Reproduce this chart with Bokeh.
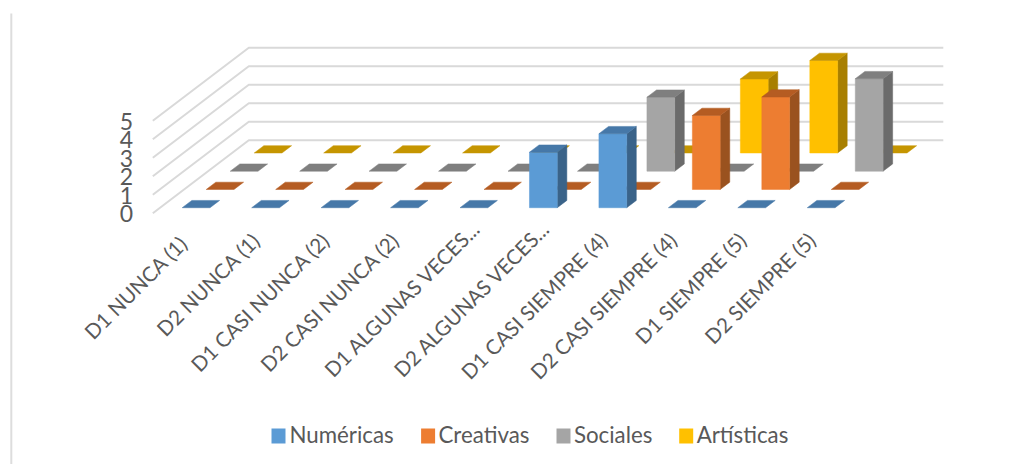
from bokeh.plotting import figure
from bokeh.models import Range1d
from bokeh.core.properties import value
from bokeh.embed import file_html
from bokeh.resources import INLINE

categories = ["D1 NUNCA (1)", "D2 NUNCA (1)", "D1 CASI NUNCA (2)", "D2 CASI NUNCA (2)",
              "D1 ALGUNAS VECES...", "D2 ALGUNAS VECES...", "D1 CASI SIEMPRE (4)",
              "D2 CASI SIEMPRE (4)", "D1 SIEMPRE (5)", "D2 SIEMPRE (5)"]
numericas = [0, 0, 0, 0, 0, 3, 4, 0, 0, 0]
creativas = [0, 0, 0, 0, 0, 0, 0, 4, 5, 0]
sociales = [0, 0, 0, 0, 0, 0, 4, 0, 0, 5]
artisticas = [0, 0, 0, 0, 0, 0, 0, 4, 5, 0]
series_names = ["Numéricas", "Creativas", "Sociales", "Artísticas"]
y_ticks = [0, 1, 2, 3, 4, 5]

series = [numericas, creativas, sociales, artisticas]
face_colors = [("#5B9BD5", "#4678A8", "#3A6389"),
               ("#ED7D31", "#B55C22", "#9A521F"),
               ("#A5A5A5", "#7F7F7F", "#6B6B6B"),
               ("#FFC000", "#C59500", "#A87F00")]

# Picture geometry: one category = 69.45 px, one value unit = 18.5 px
PX_CAT, PX_VAL = 69.45, 18.5
X0, Y0 = 152.3, 212.7                # where category 0 / value 0 meet the front of the floor
DX, DY = 24.0 / PX_CAT, 18.25 / PX_VAL   # shift per series row going backwards
N_ROWS = 4


def px_x(px):
    return (px - X0) / PX_CAT


def px_y(py):
    return (Y0 - py) / PX_VAL


W, H = 1023, 464
p = figure(width=W, height=H, output_backend="svg", toolbar_location=None,
           x_range=Range1d(px_x(0), px_x(W)),
           y_range=Range1d(px_y(H), px_y(0)),
           min_border=0, outline_line_color=None, background_fill_color="white",
           border_fill_color="white", x_axis_location=None, y_axis_location=None)
p.grid.visible = False

FONT = value("Lato")
GRID = "#D9D9D9"
TEXT = "#595959"

# outer frame line of the picture
p.segment([px_x(10.8)], [px_y(13)], [px_x(10.8)], [px_y(464)], line_color="#DDDDDD", line_width=2)

# gridlines: side wall + back wall
n = len(categories)
for v in y_ticks:
    xs = [0, N_ROWS * DX, n + N_ROWS * DX]
    ys = [v, v + N_ROWS * DY, v + N_ROWS * DY]
    p.line(xs, ys, line_color=GRID, line_width=2)


def quad_faces(k, r, val):
    """Front, top and side faces of one 3D bar, projected by category, row and value."""
    w, g = 0.4, 0.32
    d0, d1 = r + 0.3, r + 0.7
    xf = k + g + d0 * DX
    yf = d0 * DY
    xb = k + g + d1 * DX
    yb = d1 * DY
    front = ([xf, xf + w, xf + w, xf], [yf, yf, yf + val, yf + val])
    top = ([xf, xf + w, xb + w, xb], [yf + val, yf + val, yb + val, yb + val])
    side = ([xf + w, xb + w, xb + w, xf + w], [yf, yb, yb + val, yf + val])
    return front, top, side


# painter's order: back row first
for r in reversed(range(N_ROWS)):
    cf, ct, cs = face_colors[r]
    for k, val in enumerate(series[r]):
        front, top, side = quad_faces(k, r, val)
        if val > 0:
            p.patch(side[0], side[1], fill_color=cs, line_color=cs, line_width=0.5)
            p.patch(front[0], front[1], fill_color=cf, line_color=cf, line_width=0.5)
        p.patch(top[0], top[1], fill_color=ct, line_color=ct, line_width=0.5)

# value axis labels
p.text([px_x(132.5)] * len(y_ticks), [t - 0.02 for t in y_ticks], text=[str(t) for t in y_ticks],
       text_font=FONT, text_font_size="23px", text_color=TEXT,
       text_align="right", text_baseline="middle")

# category labels, rotated; the reference slides some of them along the diagonal
slide_px = [-3, 0, 0, 0, 12, 12, 0, 0, 0, 0]
lab_x = [k + 0.5 + px_x(X0 - 1 + s) for k, s in enumerate(slide_px)]
lab_y = [px_y(236 - s) for s in slide_px]
p.text(lab_x, lab_y, text=categories,
       angle=0.785, text_font=FONT, text_font_size="20.6px", text_color=TEXT,
       text_align="right", text_baseline="middle")

# legend
sq_px = [271, 420.6, 556, 678.7]
txt_px = [289, 438, 573.4, 696.2]
for name, sq, tx, cols in zip(series_names, sq_px, txt_px, face_colors):
    p.quad(left=[px_x(sq)], right=[px_x(sq + 14)], top=[px_y(428)], bottom=[px_y(443)],
           fill_color=cols[0], line_color=None)
    p.text([px_x(tx)], [px_y(434)], text=[name], text_font=FONT, text_font_size="22.3px",
           text_color=TEXT, text_align="left", text_baseline="middle")

open("out.html", "w").write(file_html(p, INLINE))
